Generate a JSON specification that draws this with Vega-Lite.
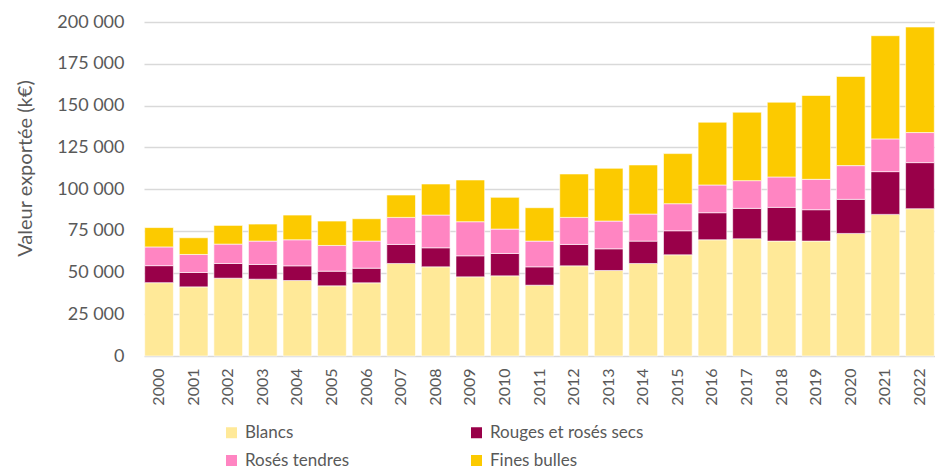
{
  "$schema": "https://vega.github.io/schema/vega-lite/v6.json",
  "autosize": {"type": "none"},
  "padding": {"left": 144, "top": 22, "right": 0, "bottom": 113},
  "width": 791,
  "height": 334,
  "config": {
    "locale": {"number": {"decimal": ",", "thousands": " ", "grouping": [3], "currency": ["", " €"]}},
    "view": {"stroke": null},
    "font": "Lato"
  },
  "data": {
    "values": [
      {"annee": "2000", "Blancs": 43900, "Rouges et rosés secs": 10200, "Rosés tendres": 11200, "Fines bulles": 11600},
      {"annee": "2001", "Blancs": 41400, "Rouges et rosés secs": 8600, "Rosés tendres": 10800, "Fines bulles": 10000},
      {"annee": "2002", "Blancs": 46600, "Rouges et rosés secs": 8800, "Rosés tendres": 11600, "Fines bulles": 11200},
      {"annee": "2003", "Blancs": 46000, "Rouges et rosés secs": 8800, "Rosés tendres": 14000, "Fines bulles": 10200},
      {"annee": "2004", "Blancs": 45200, "Rouges et rosés secs": 8800, "Rosés tendres": 15600, "Fines bulles": 14800},
      {"annee": "2005", "Blancs": 42000, "Rouges et rosés secs": 8800, "Rosés tendres": 15400, "Fines bulles": 14600},
      {"annee": "2006", "Blancs": 43800, "Rouges et rosés secs": 8800, "Rosés tendres": 16200, "Fines bulles": 13400},
      {"annee": "2007", "Blancs": 55400, "Rouges et rosés secs": 11400, "Rosés tendres": 16200, "Fines bulles": 13400},
      {"annee": "2008", "Blancs": 53400, "Rouges et rosés secs": 11400, "Rosés tendres": 19600, "Fines bulles": 18600},
      {"annee": "2009", "Blancs": 47400, "Rouges et rosés secs": 12600, "Rosés tendres": 20400, "Fines bulles": 25000},
      {"annee": "2010", "Blancs": 48000, "Rouges et rosés secs": 13400, "Rosés tendres": 14600, "Fines bulles": 19000},
      {"annee": "2011", "Blancs": 42400, "Rouges et rosés secs": 11000, "Rosés tendres": 15400, "Fines bulles": 20000},
      {"annee": "2012", "Blancs": 54000, "Rouges et rosés secs": 12800, "Rosés tendres": 16200, "Fines bulles": 26000},
      {"annee": "2013", "Blancs": 51200, "Rouges et rosés secs": 13000, "Rosés tendres": 16600, "Fines bulles": 31600},
      {"annee": "2014", "Blancs": 55400, "Rouges et rosés secs": 13400, "Rosés tendres": 16200, "Fines bulles": 29400},
      {"annee": "2015", "Blancs": 60600, "Rouges et rosés secs": 14400, "Rosés tendres": 16200, "Fines bulles": 30000},
      {"annee": "2016", "Blancs": 69600, "Rouges et rosés secs": 16200, "Rosés tendres": 16600, "Fines bulles": 37600},
      {"annee": "2017", "Blancs": 70200, "Rouges et rosés secs": 18200, "Rosés tendres": 16600, "Fines bulles": 41000},
      {"annee": "2018", "Blancs": 68800, "Rouges et rosés secs": 20200, "Rosés tendres": 18200, "Fines bulles": 44800},
      {"annee": "2019", "Blancs": 68800, "Rouges et rosés secs": 18800, "Rosés tendres": 18200, "Fines bulles": 50200},
      {"annee": "2020", "Blancs": 73400, "Rouges et rosés secs": 20400, "Rosés tendres": 20200, "Fines bulles": 53400},
      {"annee": "2021", "Blancs": 84800, "Rouges et rosés secs": 25600, "Rosés tendres": 19600, "Fines bulles": 61800},
      {"annee": "2022", "Blancs": 88200, "Rouges et rosés secs": 27600, "Rosés tendres": 18000, "Fines bulles": 63200}
    ]
  },
  "transform": [
    {"fold": ["Blancs", "Rouges et rosés secs", "Rosés tendres", "Fines bulles"], "as": ["type", "valeur"]},
    {"window": [{"op": "row_number", "as": "rang"}], "groupby": ["annee"]}
  ],
  "mark": {"type": "bar", "stroke": "#ffffff", "strokeWidth": 0.6},
  "encoding": {
    "x": {
      "field": "annee",
      "type": "ordinal",
      "scale": {"paddingInner": 0.17, "paddingOuter": 0.02},
      "axis": {
        "title": null,
        "labelAngle": -90,
        "ticks": false,
        "domain": false,
        "labelFontSize": 16,
        "labelColor": "#595959",
        "labelPadding": 12
      }
    },
    "y": {
      "field": "valeur",
      "type": "quantitative",
      "stack": "zero",
      "scale": {"domain": [0, 200000]},
      "axis": {
        "title": "Valeur exportée (k€)",
        "values": [0, 25000, 50000, 75000, 100000, 125000, 150000, 175000, 200000],
        "format": ",d",
        "ticks": false,
        "domain": false,
        "labelFontSize": 18,
        "labelColor": "#595959",
        "labelPadding": 20,
        "gridColor": "#d9d9d9",
        "gridWidth": 1.5,
        "titleFontSize": 20,
        "titleColor": "#595959",
        "titleFontWeight": "normal",
        "titleX": -119,
        "titleY": 146,
        "titleAngle": -90,
        "titleAlign": "center",
        "titleBaseline": "middle"
      }
    },
    "order": {"field": "rang", "type": "quantitative", "sort": "ascending"},
    "color": {
      "field": "type",
      "type": "nominal",
      "sort": ["Blancs", "Rouges et rosés secs", "Rosés tendres", "Fines bulles"],
      "scale": {
        "domain": ["Blancs", "Rouges et rosés secs", "Rosés tendres", "Fines bulles"],
        "range": ["#FFE998", "#990049", "#FF85C2", "#FCCA00"]
      },
      "legend": {
        "title": null,
        "orient": "none",
        "legendX": 79,
        "legendY": 402,
        "direction": "horizontal",
        "columns": 2,
        "columnPadding": 119,
        "rowPadding": 10,
        "symbolType": "square",
        "symbolSize": 121,
        "symbolStrokeWidth": 0,
        "labelFontSize": 17,
        "labelLimit": 300,
        "labelColor": "#595959",
        "labelOffset": 5,
        "padding": 0
      }
    }
  }
}
